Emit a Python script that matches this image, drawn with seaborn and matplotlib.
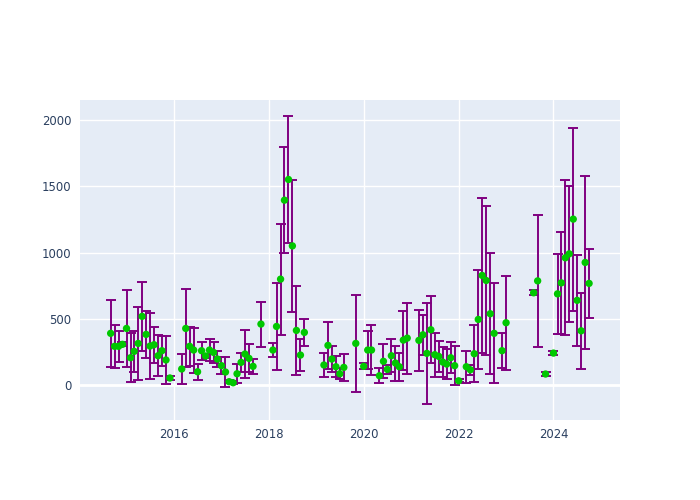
import seaborn as sns
import matplotlib.pyplot as plt
import matplotlib.dates as mdates
import pandas as pd

# monthly estimates: month, value and symmetric error
months = ['2014-09', '2014-10', '2014-11', '2014-12', '2015-01', '2015-02', '2015-03', '2015-04',
          '2015-05', '2015-06', '2015-07', '2015-08', '2015-09', '2015-10', '2015-11', '2015-12',
          '2016-03', '2016-04', '2016-05', '2016-06', '2016-07', '2016-08', '2016-09', '2016-10',
          '2016-11', '2016-12', '2017-01', '2017-02', '2017-03', '2017-04', '2017-05', '2017-06',
          '2017-07', '2017-08', '2017-09', '2017-11',
          '2018-02', '2018-03', '2018-04', '2018-05', '2018-06', '2018-07', '2018-08', '2018-09', '2018-10',
          '2019-03', '2019-04', '2019-05', '2019-06', '2019-07', '2019-08', '2019-11',
          '2020-01', '2020-02', '2020-03', '2020-05', '2020-06', '2020-07', '2020-08', '2020-09',
          '2020-10', '2020-11', '2020-12',
          '2021-03', '2021-04', '2021-05', '2021-06', '2021-07', '2021-08', '2021-09', '2021-10',
          '2021-11', '2021-12', '2022-01',
          '2022-03', '2022-04', '2022-05', '2022-06', '2022-07', '2022-08', '2022-09', '2022-10',
          '2022-12', '2023-01',
          '2023-08', '2023-09', '2023-11', '2024-01', '2024-02', '2024-03', '2024-04', '2024-05',
          '2024-06', '2024-07', '2024-08', '2024-09', '2024-10']
values = [390, 292, 292, 307, 427, 206, 254, 314, 518, 382,
          294, 304, 221, 259, 189, 53,
          121, 427, 292, 264, 100, 259, 219, 264, 246, 196,
          146, 98, 25, 17, 85, 171, 234, 201, 141, 460,
          264, 442, 799, 1395, 1551, 1050, 412, 226, 397,
          151, 299, 196, 138, 85, 133, 314,
          141, 264, 264, 70, 179, 118, 221, 166, 138, 339, 354,
          337, 379, 239, 417, 229, 216, 173, 158, 206, 146, 32,
          138, 115, 236, 495, 827, 789, 538, 390, 259, 470,
          696, 786, 83, 241, 688, 771, 960, 990, 1252, 639,
          409, 925, 767]
errors = [254, 160, 117, 15, 290, 183, 156, 276, 258, 177,
          252, 137, 155, 112, 182, 12,
          110, 294, 147, 170, 59, 68, 18, 80, 78, 58,
          63, 111, 10, 10, 70, 70, 180, 106, 56, 170,
          53, 325, 418, 400, 478, 497, 337, 118, 100,
          93, 175, 96, 78, 42, 102, 363,
          23, 146, 186, 58, 129, 34, 126, 132, 104, 223, 268,
          231, 152, 380, 254, 165, 118, 113, 116, 118, 145, 10,
          122, 38, 214, 374, 586, 563, 455, 377, 133, 356,
          20, 500, 15, 15, 304, 386, 584, 515, 690, 343,
          287, 656, 263]

df = pd.DataFrame({'date': pd.to_datetime(months), 'value': values, 'err': errors})

sns.set_style('darkgrid', {'axes.facecolor': '#E5ECF6', 'grid.color': 'white'})
plt.rcParams['font.family'] = ['DejaVu Sans']

fig = plt.figure(figsize=(7, 5), dpi=100)
ax = fig.add_axes([80 / 700, 80 / 500, 540 / 700, 320 / 500])

ax.errorbar(df['date'], df['value'], yerr=df['err'], fmt='none',
            ecolor='#800080', elinewidth=1.4, capsize=3.4, capthick=1.4, zorder=2)
sns.scatterplot(data=df, x='date', y='value', color='#00C800', s=28,
                edgecolor='none', ax=ax, zorder=3)

ax.axhline(0, color='white', lw=2, zorder=1)
ax.set_xlim(pd.Timestamp('2014-01-08'), pd.Timestamp('2025-05-27'))
ax.set_ylim(-264, 2151)
ax.xaxis.set_major_locator(mdates.YearLocator(2))
ax.xaxis.set_major_formatter(mdates.DateFormatter('%Y'))
ax.set_yticks([0, 500, 1000, 1500, 2000])
ax.set_xlabel('')
ax.set_ylabel('')
ax.grid(True, color='white', lw=1)
for s in ax.spines.values():
    s.set_visible(False)
ax.tick_params(colors='#2a3f5f', labelsize=8.4, length=0, pad=6)

plt.savefig('out.png', dpi=100)
